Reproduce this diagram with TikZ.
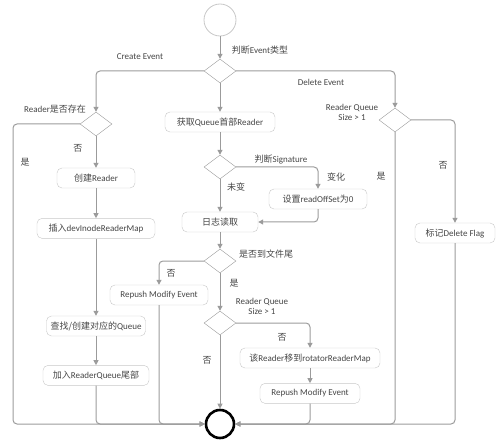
\documentclass[tikz,border=0pt]{standalone}
\usepackage{fontspec}
\setmainfont{Carlito}
\newfontfamily\zhfont{Noto Sans CJK SC}
\usetikzlibrary{
  arrows.meta,
  positioning,
  shapes.geometric
}
\definecolor{FlowGray}{RGB}{155,155,155}
\definecolor{BoxGray}{RGB}{200,200,200}
\definecolor{TextGray}{RGB}{70,70,70}
\newcommand{\zh}[1]{{\zhfont #1}}
\tikzset{
  actbox/.style={draw=BoxGray,fill=white,rounded corners=5pt,minimum height=20pt,inner sep=0pt,text=TextGray,font=\fontsize{9}{10}\selectfont},
  choice/.style={diamond,draw=FlowGray,fill=white,minimum width=32pt,minimum height=24pt,inner sep=0pt},
  startnode/.style={circle,draw=BoxGray,line width=0.8pt,minimum size=32pt,inner sep=0pt},
  endnode/.style={circle,draw=black,line width=2.6pt,minimum size=28pt,inner sep=0pt},
  lbl/.style={text=TextGray,font=\fontsize{9}{10}\selectfont,align=center,inner sep=0pt},
  flow/.style={-{Triangle[length=5pt,width=5pt]},draw=FlowGray,line width=1pt,rounded corners=4pt}
}
\begin{document}
\begin{tikzpicture}[x=1pt,y=-1pt]
\useasboundingbox (0,0) rectangle (499,444);
\node[startnode] (start) at (220,20) {};
\node[choice] (d0) at (220,71) {};
\node[choice] (d1) at (96,124) {};
\node[choice] (d2) at (395,120) {};
\node[actbox, minimum width=110pt] (getq) at (220,122) {\zh{获取}Queue\zh{首部}Reader};
\node[choice] (d3) at (220,167) {};
\node[actbox, minimum width=98pt] (setoff) at (318,199) {\zh{设置}readOffSet\zh{为}0};
\node[actbox, minimum width=76pt] (logread) at (220,222) {\zh{日志读取}};
\node[choice] (d4) at (220,261) {};
\node[actbox, minimum width=98pt] (repush1) at (159,295) {Repush Modify Event};
\node[choice] (d5) at (220,323) {};
\node[actbox, minimum width=140pt] (move) at (310,358) {\zh{该}Reader\zh{移到}rotatorReaderMap};
\node[actbox, minimum width=100pt, below=15pt of move] (repush2) {Repush Modify Event};
\node[actbox, minimum width=78pt] (create) at (96,178) {\zh{创建}Reader};
\node[actbox, minimum width=118pt, below=30pt of create] (insert) {\zh{插入}devInodeReaderMap};
\node[actbox, minimum width=99pt] (findq) at (96,326) {\zh{查找/创建对应的}Queue};
\node[actbox, minimum width=106pt, below=29pt of findq] (addq) {\zh{加入}ReaderQueue\zh{尾部}};
\node[actbox, minimum width=80pt] (flag) at (455,233) {\zh{标记}Delete Flag};
\node[endnode] (endc) at (220,424) {};

% labels
\node[lbl] (lType) at (260,50) {\zh{判断}Event\zh{类型}};
\node[lbl] (lCreate) at (140,57) {Create Event};
\node[lbl] (lDelete) at (321,82) {Delete Event};
\node[lbl] (lExist) at (55,109) {Reader\zh{是否存在}};
\node[lbl] (lExistYes) at (25,162) {\zh{是}};
\node[lbl] (lExistNo) at (78,148) {\zh{否}};
\node[lbl] (lSizeA) at (352,112) {Reader Queue\\Size > 1};
\node[lbl] (lSizeANo) at (443,165) {\zh{否}};
\node[lbl] (lSizeAYes) at (381,176) {\zh{是}};
\node[lbl] (lSig) at (281,159) {\zh{判断}Signature};
\node[lbl] (lChanged) at (336,177) {\zh{变化}};
\node[lbl] (lSame) at (236,187) {\zh{未变}};
\node[lbl] (lEof) at (266,254) {\zh{是否到文件尾}};
\node[lbl] (lEofNo) at (171,273) {\zh{否}};
\node[lbl] (lEofYes) at (234,283) {\zh{是}};
\node[lbl] (lSizeB) at (262,306) {Reader Queue\\Size > 1};
\node[lbl] (lSizeBNo) at (282,337) {\zh{否}};
\node[lbl] (lSizeBNo2) at (207,360) {\zh{否}};

% connectors
\coordinate (leftrail) at (13,124);
\draw[flow] (start) -- (d0);
\draw[flow] (d0.west) -| (d1.north);
\draw[flow] (d0.south) -- (getq);
\draw[flow] (d0.east) -| (d2.north);
\draw[flow] (getq) -- (d3);
\draw[flow] (d3.east) -| (setoff.north);
\draw[flow] (setoff.south) |- (logread.east);
\draw[flow] (d3.south) -- (logread);
\draw[flow] (logread) -- (d4);
\draw[flow] (d4.west) -| (repush1.north);
\draw[flow] (d4.south) -- (d5.north);
\draw[flow] (d5.south) -- (endc.north);
\draw[flow] (d5.east) -| (move.north);
\draw[flow] (move) -- (repush2);
\draw[flow] (d1.south) -- (create);
\draw[flow] (create) -- (insert);
\draw[flow] (insert) -- (findq);
\draw[flow] (findq) -- (addq);
\draw[flow] (d1.west) -- (leftrail) |- (endc.west);
\draw[flow] (addq.south) |- (endc.west);
\draw[flow] (repush1.south) |- (endc.west);
\draw[flow] (d2.south) |- (endc.east);
\draw[flow] (repush2.south) |- (endc.east);
\draw[flow] (d2.east) -| (flag.north);
\draw[flow] (flag.south) |- (endc.east);
\end{tikzpicture}
\end{document}
